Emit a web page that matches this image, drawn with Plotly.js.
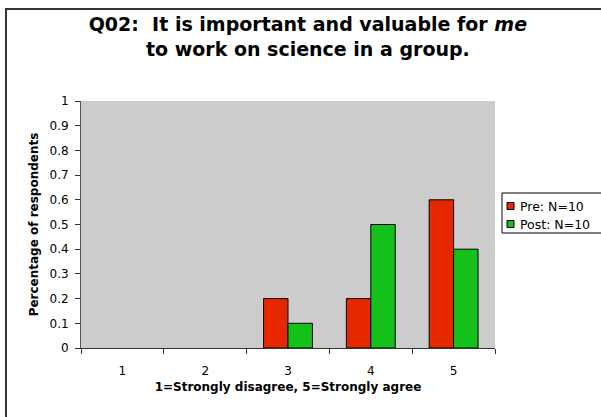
<!DOCTYPE html>
<html>
<head>
<meta charset="utf-8">
<script src="https://cdn.plot.ly/plotly-3.0.1.min.js"></script>
<style>html,body{margin:0;padding:0;background:#fff;}#chart{width:601px;height:417px;}</style>
</head>
<body>
<div id="chart"></div>
<script>
const categories = ["1", "2", "3", "4", "5"];
const preValues = [0, 0, 0.2, 0.2, 0.6];
const postValues = [0, 0, 0.1, 0.5, 0.4];
const seriesNames = ["Pre: N=10", "Post: N=10"];
const seriesColors = ["#e62800", "#14c01a"];
const yTicks = [0, 0.1, 0.2, 0.3, 0.4, 0.5, 0.6, 0.7, 0.8, 0.9, 1];
const yTickLabels = ["0", "0.1", "0.2", "0.3", "0.4", "0.5", "0.6", "0.7", "0.8", "0.9", "1"];

const font = "DejaVu Sans, Verdana, sans-serif";
const outline = vals => vals.map(v => (v === 0 ? 0 : 1));
const traces = [
  {type: "bar", x: categories, y: preValues, name: seriesNames[0], showlegend: false,
   marker: {color: seriesColors[0], line: {color: "#000", width: outline(preValues)}}},
  {type: "bar", x: categories, y: postValues, name: seriesNames[1], showlegend: false,
   marker: {color: seriesColors[1], line: {color: "#000", width: outline(postValues)}}}
];

// pixel -> paper helpers (plot area: x 81..495, y 101..348)
const PX = px => (px - 81) / 414;
const PY = py => (348 - py) / 247;

const shapes = [
  {type: "rect", xref: "paper", yref: "paper",
   x0: PX(6), x1: 3, y0: -2, y1: PY(9),
   line: {color: "#333", width: 2}, fillcolor: "rgba(0,0,0,0)", layer: "below"},
  {type: "rect", xref: "paper", yref: "paper",
   x0: PX(502), x1: PX(640), y0: PY(233), y1: PY(193),
   line: {color: "#000", width: 1}, fillcolor: "#ffffff"}
];
const annotations = [];
const rowCenters = [206, 224];
seriesNames.forEach((name, i) => {
  const cy = rowCenters[i];
  shapes.push({type: "rect", xref: "paper", yref: "paper",
    x0: PX(507), x1: PX(514), y0: PY(cy + 3.5), y1: PY(cy - 3.5),
    line: {color: "#000", width: 1}, fillcolor: seriesColors[i]});
  annotations.push({xref: "paper", yref: "paper", x: PX(518), y: PY(cy),
    xanchor: "left", yanchor: "middle", showarrow: false, text: name,
    font: {family: font, size: 12.5, color: "#000"}});
});

const layout = {
  width: 601, height: 417,
  margin: {l: 81, r: 106, t: 101, b: 69, pad: 0, autoexpand: false},
  paper_bgcolor: "#ffffff", plot_bgcolor: "#cccccc",
  font: {family: font, size: 12, color: "#000"},
  barmode: "group", bargap: 0.41, bargroupgap: 0,
  showlegend: false,
  title: {
    text: "<b>Q02:&nbsp; It is important and valuable for <i>me</i><br>to work on science in a group.</b>",
    font: {family: font, size: 19, color: "#000"},
    x: 0.548, xref: "paper", xanchor: "center",
    y: 0.926, yref: "container", yanchor: "top"
  },
  xaxis: {
    type: "category", tickson: "boundaries", ticks: "outside", ticklen: 5, tickcolor: "#333",
    showline: true, linecolor: "#333", linewidth: 1, showgrid: false, zeroline: false,
    tickfont: {family: font, size: 12}, ticklabelstandoff: 12,
    title: {text: "<b>1=Strongly disagree, 5=Strongly agree</b>", font: {family: font, size: 12}, standoff: 5}
  },
  yaxis: {
    range: [0, 1], tickvals: yTicks, ticktext: yTickLabels,
    ticks: "outside", ticklen: 5, tickcolor: "#333",
    showline: true, linecolor: "#555", linewidth: 1, showgrid: false, zeroline: false,
    tickfont: {family: font, size: 12}, ticklabelstandoff: 4,
    title: {text: "<b>Percentage of respondents</b>", font: {family: font, size: 12}, standoff: 8}
  },
  shapes: shapes,
  annotations: annotations
};
Plotly.newPlot("chart", traces, layout, {displayModeBar: false, staticPlot: true});
</script>
</body>
</html>
